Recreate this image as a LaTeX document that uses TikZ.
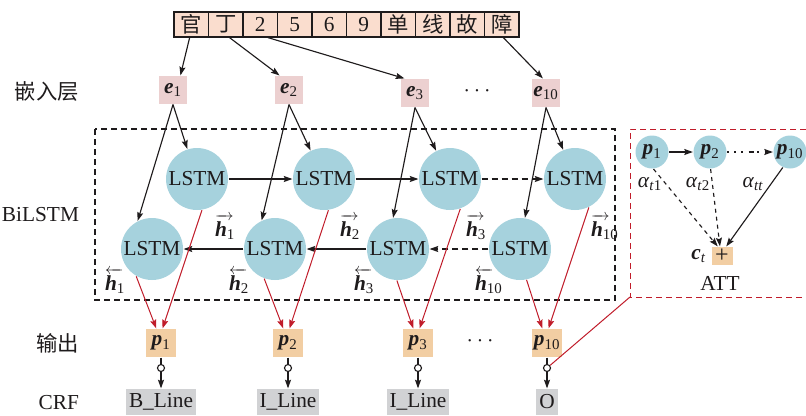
\documentclass[tikz,border=0pt]{standalone}
\usepackage{fontspec}
\setmainfont{Liberation Serif}
\newfontfamily\cjk{Noto Sans CJK SC}
\usetikzlibrary{arrows.meta,calc}

\definecolor{ink}{RGB}{30,27,28}
\definecolor{cellfill}{RGB}{250,221,206}
\definecolor{efill}{RGB}{236,208,208}
\definecolor{pfill}{RGB}{242,206,163}
\definecolor{lstmfill}{RGB}{166,210,221}
\definecolor{crffill}{RGB}{209,210,212}
\definecolor{redline}{RGB}{192,28,42}

% bold italic vector with upright subscript
\newcommand\bv[2]{\textbf{\textit{#1}}\textsubscript{#2}}
% hidden state with a direction arrow above it
\newcommand\hlab[2]{\begin{tabular}{@{}l@{}}\makebox[14pt][l]{\fontsize{12}{12}\selectfont#1}\\[-7pt]\bv{h}{#2}\end{tabular}}

\begin{document}
\begin{tikzpicture}[x=0.75pt,y=-0.75pt,
  color=ink,
  font=\fontsize{16}{19}\selectfont,
  line width=0.85pt,
  >={Stealth[length=6.5pt,width=4.5pt,inset=1pt]},
  cell/.style={draw=ink, fill=cellfill, minimum width=25.9pt, minimum height=18.75pt, inner sep=0pt},
  emb/.style={fill=efill, minimum size=21pt, inner sep=0pt},
  outp/.style={fill=pfill, minimum width=22.5pt, minimum height=21pt, inner sep=0pt},
  lstm/.style={circle, fill=lstmfill, minimum size=46.5pt, inner sep=0pt},
  crf/.style={fill=crffill, minimum height=19.5pt, inner xsep=2pt, inner ysep=0pt},
  attnode/.style={circle, fill=lstmfill, minimum size=24.75pt, inner sep=0pt},
  plusbox/.style={fill=pfill, minimum width=15.75pt, minimum height=13.5pt, inner sep=0pt},
  knot/.style={circle, draw=ink, fill=white, minimum size=5.25pt, inner sep=0pt},
  redarr/.style={->, draw=redline, line width=0.75pt},
  boxdash/.style={dash pattern=on 4.5pt off 3pt},
  layerlab/.style={anchor=east}
]
\useasboundingbox (0,0) rectangle (806,415);

% layer captions
\node[layerlab] at (84,91) {\cjk 嵌入层};
\node[layerlab] at (84,215) {BiLSTM};
\node[layerlab] at (84,343) {\cjk 输出};
\node[layerlab] at (84,403) {CRF};

% BiLSTM frame
\draw[boxdash] (95,129) rectangle (615,300);

% input characters
\foreach \lab [count=\i] in {{\cjk 官},{\cjk 丁},2,5,6,9,{\cjk 单},{\cjk 线},{\cjk 故},{\cjk 障}}
  \node[cell] (c\i) at ({174+34.5*(\i-0.5)},24.5) {\lab};

% embeddings
\node[emb] (e1) at (173,90) {\bv{e}{1}};
\node[emb] (e2) at (289,90) {\bv{e}{2}};
\node[emb] (e3) at (415,93) {\bv{e}{3}};
\node[emb] (e10) at (546,93) {\bv{e}{10}};
\node (edots) at (477,91) {$\cdots$};

\draw[->] (c1.-97) -- (e1.63);
\draw[->] (c2.-74) -- (e2.123);
\draw[->] (c3.-60) -- (e3.126);
\draw[->] (c10.-83) -- (e10.102);

% forward and backward LSTM cells
\node[lstm] (t1) at (197,179) {LSTM};
\node[lstm] (t2) at (324,179) {LSTM};
\node[lstm] (t3) at (450,179) {LSTM};
\node[lstm] (t10) at (575,179) {LSTM};
\node[lstm] (b1) at (152,249) {LSTM};
\node[lstm] (b2) at (275,249) {LSTM};
\node[lstm] (b3) at (398,249) {LSTM};
\node[lstm] (b10) at (520,249) {LSTM};

\draw[->] (e1.south) -- (t1);
\draw[->] (e1.south) -- (b1.117);
\draw[->] (e2.south) -- (t2);
\draw[->] (e2.south) -- (b2.115);
\draw[->] (e3.south) -- (t3);
\draw[->] (e3.south) -- (b3.99);
\draw[->] (e10.south) -- (t10);
\draw[->] (e10.south) -- (b10.81);

\draw[->] (t1) -- (t2);
\draw[->] (t2) -- (t3);
\draw[->, boxdash] (t3) -- (t10);
\draw[->] (b2) -- (b1);
\draw[->] (b3) -- (b2);
\draw[->, boxdash] (b10) -- (b3);

% hidden states
\node[anchor=west] at (210,223) {\hlab{\rightarrowfill}{1}};
\node[anchor=west] at (335,223) {\hlab{\rightarrowfill}{2}};
\node[anchor=west] at (461,223) {\hlab{\rightarrowfill}{3}};
\node[anchor=west] at (586,223) {\hlab{\rightarrowfill}{10}};
\node[anchor=west] at (100,277) {\hlab{\leftarrowfill}{1}};
\node[anchor=west] at (224,277) {\hlab{\leftarrowfill}{2}};
\node[anchor=west] at (349,277) {\hlab{\leftarrowfill}{3}};
\node[anchor=west] at (470,277) {\hlab{\leftarrowfill}{10}};

% outputs
\node[outp] (p1) at (161,343) {\bv{p}{1}};
\node[outp] (p2) at (288,343) {\bv{p}{2}};
\node[outp] (p3) at (418,343) {\bv{p}{3}};
\node[outp] (p10) at (547,343) {\bv{p}{10}};
\node (pdots) at (480,341) {$\cdots$};

\draw[redarr] (t1.-81) -- (p1.84);
\draw[redarr] (b1.-120) -- (p1.108);
\draw[redarr] (t2.-82) -- (p2.84);
\draw[redarr] (b2.-110) -- (p2.108);
\draw[redarr] (t3.-71) -- (p3.84);
\draw[redarr] (b3.-92) -- (p3.108);
\draw[redarr] (t10.-64) -- (p10.84);
\draw[redarr] (b10.-78) -- (p10.108);

% CRF tags
\node[knot] (k1) at (161,368) {};
\node[knot] (k2) at (288,368) {};
\node[knot] (k3) at (418,368) {};
\node[knot] (k10) at (547,368) {};
\node[crf] (r1) at (161,402) {B\_Line};
\node[crf] (r2) at (288,402) {I\_Line};
\node[crf] (r3) at (418,402) {I\_Line};
\node[crf, minimum width=16.5pt] (r10) at (547,402) {O};

\foreach \i in {1,2,3,10} {
  \draw (p\i) -- (k\i);
  \draw[->] (k\i) -- (r\i);
}

% attention panel
\coordinate (attc) at (630,297);
\draw[redline, boxdash, line width=0.75pt] (806,129) -- (630,129) -- (attc) -- (806,297);
\draw[redline, line width=0.75pt] (k10) -- (attc);

\node[attnode] (a1) at (652,152) {\bv{p}{1}};
\node[attnode] (a2) at (710,152) {\bv{p}{2}};
\node[attnode] (a10) at (790,152) {\bv{p}{10}};
\draw[->] (a1) -- (a2);
\draw[->, dash pattern=on 1.4pt off 4pt on 1.4pt off 4pt on 1.4pt off 4pt on 4pt off 2.5pt] (a2) -- (a10);

\node[plusbox] (sum) at (722,256) {\fontsize{18}{18}\selectfont +};
\node[anchor=east] (ct) at (711,256) {\bv{c}{\textit{t}}};
\node (attlab) at (720,283) {ATT};

\draw[->, dashed] (a1.-85) -- (sum.114);
\draw[->, dashed] (a2.-88) -- (sum.102);
\draw[->] (a10.-115) -- (sum.66);

\node at (650,184) {\textit{α}\textsubscript{\textit{t}1}};
\node at (698,184) {\textit{α}\textsubscript{\textit{t}2}};
\node at (753,184) {\textit{α}\textsubscript{\textit{tt}}};
\end{tikzpicture}
\end{document}
